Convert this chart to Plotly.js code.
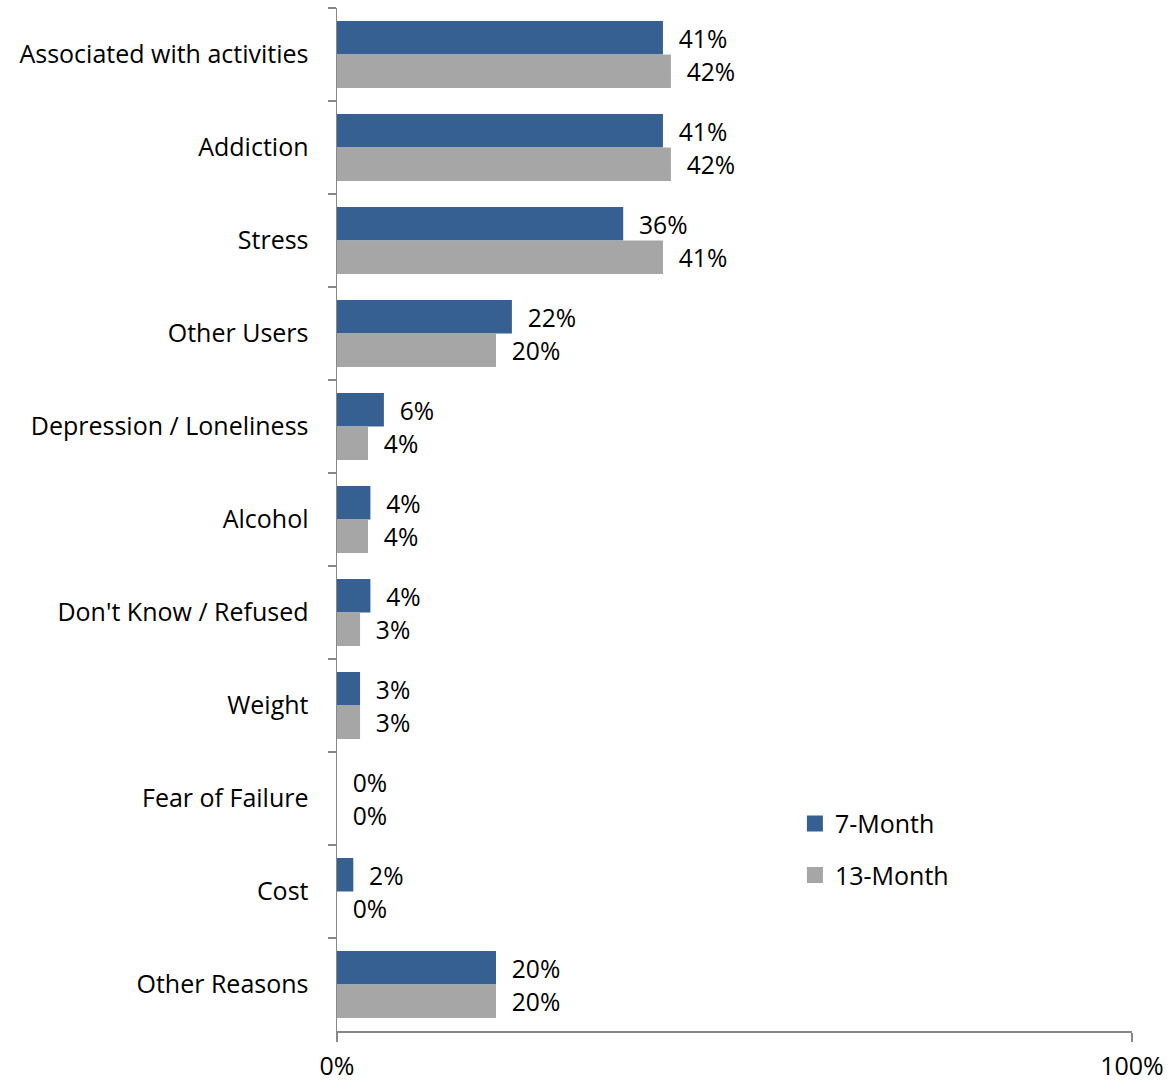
<!DOCTYPE html>
<html>
<head>
<meta charset="utf-8">
<script src="https://cdn.plot.ly/plotly-3.0.1.min.js"></script>
<style>html,body{margin:0;padding:0;background:#fff;}#chart{width:1176px;height:1081px;}</style>
</head>
<body>
<div id="chart"></div>
<script>
const categories = ["Associated with activities","Addiction","Stress","Other Users","Depression / Loneliness","Alcohol","Don't Know / Refused","Weight","Fear of Failure","Cost","Other Reasons"];
const month7 = [41, 41, 36, 22, 5.9, 4.2, 4.2, 2.9, 0, 2.05, 20];
const month13 = [42, 42, 41, 20, 3.9, 3.9, 2.9, 2.9, 0, 0, 20];
const seriesNames = ["7-Month","13-Month"];
const seriesColors = ["#376092","#A6A6A6"];
const xTickVals = [0, 100];
const xTickText = ["0%","100%"];

const FONT = "Open Sans, sans-serif";
const FS = 25;
const pad = "\u00a0\u00a0";

function barTrace(name, vals, color){
  return {
    type: "bar", orientation: "h", name: name,
    y: categories, x: vals,
    marker: {color: color, line: {width: 0}},
    text: vals.map(v => pad + Math.round(v) + "%"),
    texttemplate: "%{text}",
    textposition: "outside",
    textfont: {family: FONT, size: FS, color: "#000"},
    cliponaxis: false,
    showlegend: false,
    hoverinfo: "skip"
  };
}
function legendTrace(name, color, group){
  return {
    type: "scatter", mode: "markers", name: name,
    x: [null], y: [null],
    marker: {symbol: "square", size: 18, color: color},
    legendgroup: group, showlegend: true, hoverinfo: "skip"
  };
}

const data = [
  barTrace(seriesNames[0], month7, seriesColors[0]),
  barTrace(seriesNames[1], month13, seriesColors[1]),
  legendTrace(seriesNames[0], seriesColors[0], "a"),
  legendTrace(seriesNames[1], seriesColors[1], "b")
];

const layout = {
  width: 1176, height: 1081,
  margin: {l: 337, r: 44, t: 8, b: 50},
  paper_bgcolor: "#fff", plot_bgcolor: "#fff",
  barmode: "group", bargap: 0.28, bargroupgap: 0,
  font: {family: FONT, size: FS, color: "#000"},
  showlegend: true,
  legend: {x: 0.576, y: 0.225, xanchor: "left", yanchor: "top",
           font: {family: FONT, size: FS, color: "#000"}, itemwidth: 30,
           traceorder: "grouped", tracegroupgap: 16, bgcolor: "rgba(0,0,0,0)"},
  xaxis: {range: [0, 100], tickvals: xTickVals, ticktext: xTickText,
          showgrid: false, zeroline: false, showline: true, linecolor: "#888", linewidth: 1.5,
          ticks: "outside", ticklen: 9, tickcolor: "#888", tickwidth: 1.5,
          ticklabelstandoff: 3, tickfont: {family: FONT, size: FS, color: "#000"}, fixedrange: true},
  yaxis: {type: "category", autorange: "reversed", showgrid: false, zeroline: false,
          showline: true, linecolor: "#888", linewidth: 1.5,
          ticks: "outside", ticklen: 8, tickcolor: "#888", tickwidth: 1.5, tickson: "boundaries",
          ticklabelstandoff: 22, tickfont: {family: FONT, size: FS, color: "#000"}, fixedrange: true}
};

Plotly.newPlot("chart", data, layout, {displayModeBar: false, staticPlot: true});
</script>
</body>
</html>
